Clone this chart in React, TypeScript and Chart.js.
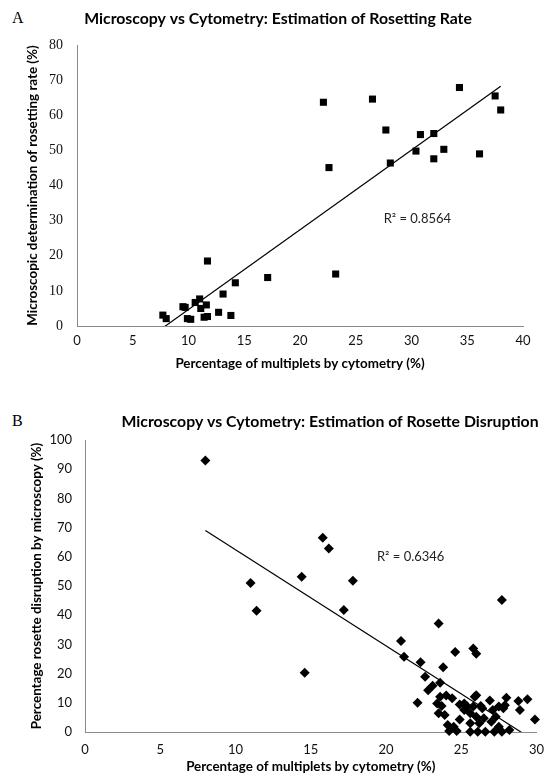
import React, { useEffect, useRef } from "react";
import { Chart, registerables } from "chart.js";

Chart.register(...registerables);

// ---------- Panel A: rosetting rate ----------
const rosettingCytometry = [
  7.7, 8.0, 9.5, 9.7, 9.9, 10.2, 10.6, 11.0, 11.1, 11.6, 11.4, 11.7, 11.7, 12.7, 13.1, 13.8, 14.2, 17.1,
  22.1, 22.6, 23.2, 26.5, 27.7, 28.1, 30.4, 30.8, 32.0, 32.0, 32.9, 34.3, 36.1, 37.5, 38.0,
];
const rosettingMicroscopy = [
  3.1, 2.1, 5.5, 5.3, 2.1, 1.9, 6.7, 7.7, 5.0, 6.0, 2.5, 2.7, 18.5, 3.9, 9.1, 3.0, 12.3, 13.8,
  63.7, 45.1, 14.8, 64.6, 55.8, 46.4, 49.8, 54.5, 54.8, 47.6, 50.3, 67.9, 49.0, 65.5, 61.5,
];
const rosettingXTicks = [0, 5, 10, 15, 20, 25, 30, 35, 40];
const rosettingYTicks = [0, 10, 20, 30, 40, 50, 60, 70, 80];
const rosettingR2 = "R² = 0.8564";
const rosettingR2At = [27.5, 30.5];
const rosettingTitle = "Microscopy vs Cytometry: Estimation of Rosetting Rate";
const rosettingXTitle = "Percentage of multiplets by cytometry (%)";
const rosettingYTitle = "Microscopic determination of rosetting rate (%)";

// ---------- Panel B: rosette disruption ----------
const disruptionCytometry = [
  8.0, 11.0, 11.4, 14.4, 14.6, 15.8, 16.2, 17.2, 17.8, 21.0,
  21.2, 22.1, 22.3, 22.6, 22.8, 23.1, 23.5, 23.6, 23.8, 23.4,
  23.5, 23.7, 23.9, 24.0, 24.4, 24.1, 24.2, 24.6, 24.5, 24.7,
  24.9, 24.9, 25.2, 25.2, 25.6, 25.8, 25.8, 26.0, 26.0, 26.0,
  25.6, 25.6, 26.1, 26.2, 26.4, 26.5, 26.9, 27.0, 26.6, 27.2,
  27.5, 27.7, 28.2, 27.7, 28.0, 27.9, 27.5, 27.8, 28.9, 28.8,
  29.4, 29.9, 25.4, 26.3, 27.1, 27.3, 23.6, 25.9,
];
const disruptionMicroscopy = [
  93.0, 51.0, 41.5, 53.2, 20.3, 66.5, 62.8, 41.8, 51.8, 31.2,
  25.8, 10.0, 23.9, 18.9, 14.3, 15.8, 37.2, 16.9, 22.2, 9.8,
  6.4, 8.9, 5.8, 12.5, 11.6, 2.4, 0.3, 27.4, 1.8, 0.3,
  4.3, 9.4, 9.8, 7.5, 6.4, 8.7, 28.6, 26.8, 12.6, 5.2,
  3.0, 0.1, 0.1, 3.0, 8.1, 4.7, 10.8, 3.5, 0.1, 0.1,
  1.8, 0.1, 0.7, 45.2, 11.7, 9.2, 8.7, 8.1, 7.5, 10.6,
  11.2, 4.3, 8.7, 8.9, 7.5, 5.2, 12.1, 12.1,
];
const disruptionXTicks = [0, 5, 10, 15, 20, 25, 30];
const disruptionYTicks = [0, 10, 20, 30, 40, 50, 60, 70, 80, 90, 100];
const disruptionR2 = "R² = 0.6346";
const disruptionR2At = [19.4, 60];
const disruptionTitle = "Microscopy vs Cytometry: Estimation of Rosette Disruption";
const disruptionXTitle = "Percentage of multiplets by cytometry (%)";
const disruptionYTitle = "Percentage rosette disruption by microscopy (%)";

const SANS = "Lato, 'Open Sans', sans-serif";
const SERIF = "'Liberation Serif', 'Times New Roman', serif";
const AXIS_GRAY = "#8a8a8a";

function linearFit(xs: number[], ys: number[]) {
  const n = xs.length;
  const mx = xs.reduce((a, b) => a + b, 0) / n;
  const my = ys.reduce((a, b) => a + b, 0) / n;
  let sxy = 0;
  let sxx = 0;
  for (let i = 0; i < n; i++) {
    sxy += (xs[i] - mx) * (ys[i] - my);
    sxx += (xs[i] - mx) * (xs[i] - mx);
  }
  const slope = sxy / sxx;
  const intercept = my - slope * mx;
  const x0 = Math.min(...xs);
  const x1 = Math.max(...xs);
  return [
    { x: x0, y: intercept + slope * x0 },
    { x: x1, y: intercept + slope * x1 },
  ];
}

type PanelCfg = {
  xs: number[];
  ys: number[];
  xTicks: number[];
  yTicks: number[];
  title: string;
  titleX: number;
  titleY: number;
  xTitle: string;
  yTitle: string;
  r2: string;
  r2At: number[];
  pointStyle: string;
  pointRadius: number;
  padTop: number;
  padRight: number;
  yScaleWidth: number;
  xScaleHeight: number;
  yTickPad: number;
  xTickPad: number;
  yTitlePad: number;
  xTitlePad: number;
  yTickFamily: string;
  yTickSize: number;
};

function Panel({ cfg, top, height }: { cfg: PanelCfg; top: number; height: number }) {
  const ref = useRef<HTMLCanvasElement | null>(null);
  useEffect(() => {
    if (!ref.current) return;
    const pts = cfg.xs.map((x, i) => ({ x, y: cfg.ys[i] }));
    const trend = linearFit(cfg.xs, cfg.ys);
    const overlay = {
      id: "overlay",
      afterDraw(chart: any) {
        const ctx = chart.ctx;
        ctx.save();
        ctx.fillStyle = "#000";
        ctx.textBaseline = "middle";
        ctx.textAlign = "center";
        ctx.font = `bold 15.8px ${SANS}`;
        ctx.fillText(cfg.title, cfg.titleX, cfg.titleY);
        const px = chart.scales.x.getPixelForValue(cfg.r2At[0]);
        const py = chart.scales.y.getPixelForValue(cfg.r2At[1]);
        ctx.textAlign = "left";
        ctx.font = `13px ${SANS}`;
        ctx.fillStyle = "#222";
        ctx.fillText(cfg.r2, px, py);
        ctx.restore();
      },
    };
    const chart = new Chart(ref.current, {
      type: "scatter",
      data: {
        datasets: [
          {
            type: "line",
            data: trend,
            borderColor: "#000",
            borderWidth: 1.2,
            pointRadius: 0,
            fill: false,
            order: 0,
            clip: 0,
          } as any,
          {
            data: pts,
            pointStyle: cfg.pointStyle as any,
            pointRadius: cfg.pointRadius,
            backgroundColor: "#000",
            borderColor: "#000",
            borderWidth: 0,
            order: 1,
            clip: false,
          } as any,
        ],
      },
      options: {
        animation: false,
        responsive: true,
        maintainAspectRatio: false,
        layout: { padding: { top: cfg.padTop, right: cfg.padRight, left: 0, bottom: 0 } },
        plugins: { legend: { display: false }, tooltip: { enabled: false }, title: { display: false } },
        scales: {
          x: {
            type: "linear",
            min: cfg.xTicks[0],
            max: cfg.xTicks[cfg.xTicks.length - 1],
            afterBuildTicks: (s: any) => {
              s.ticks = cfg.xTicks.map((v) => ({ value: v }));
            },
            afterFit: (s: any) => {
              s.height = cfg.xScaleHeight;
            },
            grid: { display: false, drawTicks: false },
            border: { display: true, color: AXIS_GRAY, width: 1 },
            ticks: { padding: cfg.xTickPad, color: "#111", font: { family: SANS, size: 13 }, maxRotation: 0 },
            title: {
              display: true,
              text: cfg.xTitle,
              color: "#000",
              font: { family: SANS, size: 13.4, weight: "bold" },
              padding: { top: 0, bottom: cfg.xTitlePad },
            },
          },
          y: {
            type: "linear",
            min: cfg.yTicks[0],
            max: cfg.yTicks[cfg.yTicks.length - 1],
            afterBuildTicks: (s: any) => {
              s.ticks = cfg.yTicks.map((v) => ({ value: v }));
            },
            afterFit: (s: any) => {
              s.width = cfg.yScaleWidth;
            },
            grid: { display: false, drawTicks: false },
            border: { display: true, color: AXIS_GRAY, width: 1 },
            ticks: { padding: cfg.yTickPad, color: "#111", font: { family: cfg.yTickFamily, size: cfg.yTickSize } },
            title: {
              display: true,
              text: cfg.yTitle,
              color: "#000",
              font: { family: SANS, size: 13.4, weight: "bold" },
              padding: { top: cfg.yTitlePad, bottom: 0 },
            },
          },
        },
      },
      plugins: [overlay as any],
    });
    return () => chart.destroy();
  }, [cfg]);
  return (
    <div style={{ position: "absolute", left: 0, top, width: 554, height }}>
      <canvas ref={ref} />
    </div>
  );
}

const panelA: PanelCfg = {
  xs: rosettingCytometry,
  ys: rosettingMicroscopy,
  xTicks: rosettingXTicks,
  yTicks: rosettingYTicks,
  title: rosettingTitle,
  titleX: 278,
  titleY: 19,
  xTitle: rosettingXTitle,
  yTitle: rosettingYTitle,
  r2: rosettingR2,
  r2At: rosettingR2At,
  pointStyle: "rect",
  pointRadius: 5,
  padTop: 45,
  padRight: 31,
  yScaleWidth: 77,
  xScaleHeight: 59,
  yTickPad: 14,
  xTickPad: 7,
  yTitlePad: 25,
  xTitlePad: 13,
  yTickFamily: SERIF,
  yTickSize: 14,
};

const panelB: PanelCfg = {
  xs: disruptionCytometry,
  ys: disruptionMicroscopy,
  xTicks: disruptionXTicks,
  yTicks: disruptionYTicks,
  title: disruptionTitle,
  titleX: 330,
  titleY: 37,
  xTitle: disruptionXTitle,
  yTitle: disruptionYTitle,
  r2: disruptionR2,
  r2At: disruptionR2At,
  pointStyle: "rectRot",
  pointRadius: 5,
  padTop: 55,
  padRight: 9,
  yScaleWidth: 85,
  xScaleHeight: 47,
  yTickPad: 13,
  xTickPad: 10,
  yTitlePad: 29,
  xTitlePad: 4,
  yTickFamily: SANS,
  yTickSize: 13,
};

export default function App() {
  return (
    <div style={{ position: "absolute", left: 0, top: 0, width: 554, height: 779, background: "#fff" }}>
      <div
        style={{
          position: "absolute",
          left: 12,
          top: 8,
          fontFamily: SERIF,
          fontSize: 16,
          lineHeight: "19px",
          color: "#000",
        }}
      >
        A
      </div>
      <div
        style={{
          position: "absolute",
          left: 12,
          top: 411,
          fontFamily: SERIF,
          fontSize: 16,
          lineHeight: "19px",
          color: "#000",
        }}
      >
        B
      </div>
      <Panel cfg={panelA} top={0} height={385} />
      <Panel cfg={panelB} top={385} height={394} />
    </div>
  );
}
